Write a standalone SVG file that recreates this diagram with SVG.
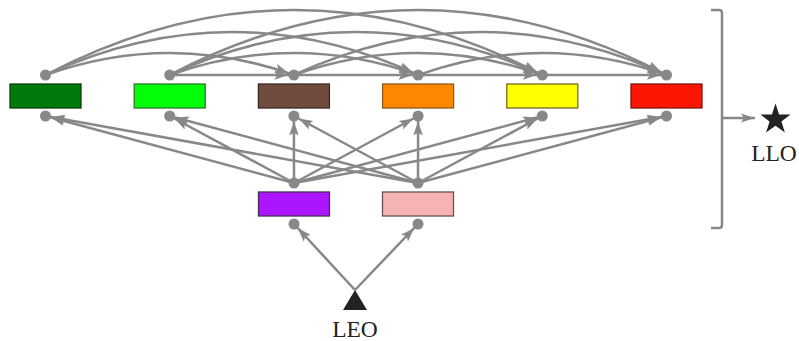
<svg xmlns="http://www.w3.org/2000/svg" width="799" height="341" viewBox="0 0 799 341">
  <style>
    .edge { fill: none; stroke: #888888; stroke-width: 2.5; marker-end: url(#arrow); }
    .plain { fill: none; stroke: #888888; stroke-width: 2.5; }
    .dot { fill: #888888; }
    .box { stroke-width: 1.3; }
    .lbl { font-family: "Liberation Serif", "DejaVu Serif", serif; font-size: 23.5px; fill: #222222; text-anchor: middle; }
  </style>
  <defs>
    <marker id="arrow" markerUnits="userSpaceOnUse" markerWidth="22" markerHeight="12" viewBox="0 0 22 12" refX="19.5" refY="6" orient="auto">
      <path d="M0,1.2 L14,6 L0,10.8 L2.8,6 z" fill="#888888"/>
    </marker>
    <marker id="arrow2" markerUnits="userSpaceOnUse" markerWidth="22" markerHeight="12" viewBox="0 0 22 12" refX="14" refY="6" orient="auto">
      <path d="M0,1.5 L14,6 L0,10.5 L2.8,6 z" fill="#888888"/>
    </marker>
  </defs>

  <g id="connectors">
    <!-- top straight -->
    <path class="edge" d="M169.7,75 L293.9,75"/>
    <path class="edge" d="M293.9,75 L418.1,75"/>
    <path class="edge" d="M418.1,75 L542.3,75"/>
    <path class="edge" d="M542.3,75 L666.5,75"/>
    <!-- span 2 -->
    <path class="edge" d="M45.5,75 Q169.7,31 293.9,75"/>
    <path class="edge" d="M169.7,75 Q293.9,31 418.1,75"/>
    <path class="edge" d="M293.9,75 Q418.1,31 542.3,75"/>
    <path class="edge" d="M418.1,75 Q542.3,31 666.5,75"/>
    <!-- span 3 -->
    <path class="edge" d="M45.5,75 Q231.8,-11 418.1,75"/>
    <path class="edge" d="M169.7,75 Q356,-11 542.3,75"/>
    <path class="edge" d="M293.9,75 Q480.2,-11 666.5,75"/>
    <!-- span 4 -->
    <path class="edge" d="M45.5,75 Q293.9,-55 542.3,75"/>
    <path class="edge" d="M169.7,75 Q418.1,-55 666.5,75"/>
    <!-- from purple -->
    <path class="edge" d="M294,183 L45.5,116"/>
    <path class="edge" d="M294,183 L169.7,116"/>
    <path class="edge" d="M294,183 L293.9,116"/>
    <path class="edge" d="M294,183 L418.1,116"/>
    <path class="edge" d="M294,183 L542.3,116"/>
    <path class="edge" d="M294,183 L666.5,116"/>
    <!-- from pink -->
    <path class="edge" d="M418,183 L45.5,116"/>
    <path class="edge" d="M418,183 L169.7,116"/>
    <path class="edge" d="M418,183 L293.9,116"/>
    <path class="edge" d="M418,183 L418.1,116"/>
    <path class="edge" d="M418,183 L542.3,116"/>
    <path class="edge" d="M418,183 L666.5,116"/>
    <!-- from LEO -->
    <path class="edge" d="M355,290 L294,224"/>
    <path class="edge" d="M355,290 L418,224"/>
    <!-- bracket -->
    <path class="plain" d="M711,10 L719,10 Q722,10 722,13 L722,225 Q722,228 719,228 L711,228"/>
    <path class="plain" d="M722,118 L755,118" marker-end="url(#arrow2)"/>
  </g>

  <g id="n1">
    <rect class="box" x="10" y="84" width="71" height="24" fill="#007a0a" stroke="#0b3d0b"/>
    <circle class="dot" cx="45.5" cy="75" r="5.5"/>
    <circle class="dot" cx="45.5" cy="116" r="5.5"/>
  </g>
  <g id="n2">
    <rect class="box" x="134.2" y="84" width="71" height="24" fill="#00ff08" stroke="#2a7a2a"/>
    <circle class="dot" cx="169.7" cy="75" r="5.5"/>
    <circle class="dot" cx="169.7" cy="116" r="5.5"/>
  </g>
  <g id="n3">
    <rect class="box" x="258.4" y="84" width="71" height="24" fill="#704c3e" stroke="#3a2a22"/>
    <circle class="dot" cx="293.9" cy="75" r="5.5"/>
    <circle class="dot" cx="293.9" cy="116" r="5.5"/>
  </g>
  <g id="n4">
    <rect class="box" x="382.6" y="84" width="71" height="24" fill="#ff8800" stroke="#8a5a20"/>
    <circle class="dot" cx="418.1" cy="75" r="5.5"/>
    <circle class="dot" cx="418.1" cy="116" r="5.5"/>
  </g>
  <g id="n5">
    <rect class="box" x="506.8" y="84" width="71" height="24" fill="#ffff00" stroke="#6e6a2a"/>
    <circle class="dot" cx="542.3" cy="75" r="5.5"/>
    <circle class="dot" cx="542.3" cy="116" r="5.5"/>
  </g>
  <g id="n6">
    <rect class="box" x="631" y="84" width="71" height="24" fill="#fa1600" stroke="#7a1a10"/>
    <circle class="dot" cx="666.5" cy="75" r="5.5"/>
    <circle class="dot" cx="666.5" cy="116" r="5.5"/>
  </g>
  <g id="n7">
    <rect class="box" x="258.5" y="192" width="71" height="24" fill="#aa14ff" stroke="#4a2a5a"/>
    <circle class="dot" cx="294" cy="183" r="5.5"/>
    <circle class="dot" cx="294" cy="224" r="5.5"/>
  </g>
  <g id="n8">
    <rect class="box" x="382.5" y="192" width="71" height="24" fill="#f5b3b3" stroke="#6a5050"/>
    <circle class="dot" cx="418" cy="183" r="5.5"/>
    <circle class="dot" cx="418" cy="224" r="5.5"/>
  </g>
  <g id="LEO">
    <polygon points="355,290 367,310 343,310" fill="#222222"/>
    <text class="lbl" x="355" y="337">LEO</text>
  </g>
  <g id="LLO">
    <polygon points="775.5,103.5 779.1,114.5 790.6,114.6 781.4,121.5 784.9,132.5 775.5,125.8 766.1,132.5 769.6,121.5 760.4,114.6 771.9,114.5" fill="#222222"/>
    <text class="lbl" x="774" y="161">LLO</text>
  </g>
</svg>
